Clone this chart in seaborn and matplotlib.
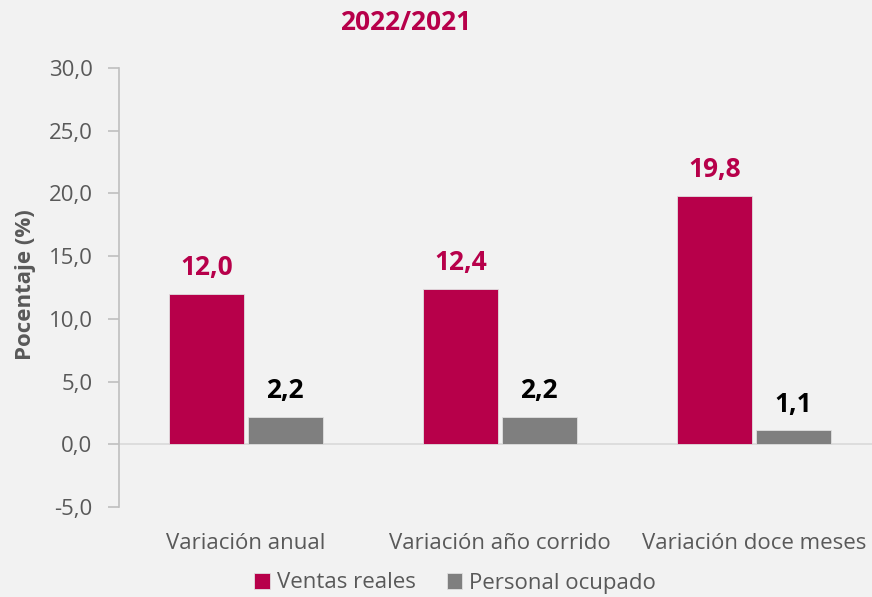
import matplotlib
matplotlib.use("Agg")
import matplotlib.pyplot as plt
import seaborn as sns
import pandas as pd

categories = ["Variación anual", "Variación año corrido", "Variación doce meses"]
series_names = ["Ventas reales", "Personal ocupado"]
ventas = [12.0, 12.4, 19.8]
personal = [2.2, 2.2, 1.1]
yticks = [-5, 0, 5, 10, 15, 20, 25, 30]
title = "2022/2021"
ylabel = "Pocentaje (%)"

CRIMSON = "#B7004A"
GRAY = "#7F7F7F"
TXT = "#595959"
BG = "#F2F2F2"

sns.set_theme(style="white")
plt.rcParams['font.family'] = ['Open Sans', 'DejaVu Sans']

df = pd.DataFrame({
    "cat": categories * 2,
    "serie": [series_names[0]] * 3 + [series_names[1]] * 3,
    "val": ventas + personal,
})

fig = plt.figure(figsize=(8.72, 5.97), dpi=100, facecolor=BG)
W, H = 872, 597
ax = fig.add_axes([119 / W, 1 - 507 / H, 762 / W, 439 / H])
ax.set_facecolor(BG)

sns.barplot(data=df, x="cat", y="val", hue="serie", order=categories,
            hue_order=series_names, palette=[CRIMSON, GRAY], saturation=1,
            width=0.618, gap=0.045, edgecolor="#E0E0E0", linewidth=0.6,
            ax=ax, zorder=3)

ax.set_xlim(-0.5, 2.5)
ax.set_ylim(-5, 30)
ax.set_yticks(yticks)
ax.set_yticklabels([f"{v:.1f}".replace(".", ",") for v in yticks],
                   fontsize=16, color=TXT)
ax.tick_params(axis="y", length=8, width=1.2, color="#BFBFBF", pad=11, left=True)
ax.tick_params(axis="x", length=0, pad=19, labelsize=16, labelcolor=TXT)
ax.set_xlabel("")
ax.set_ylabel("")
for s in ["top", "right", "bottom"]:
    ax.spines[s].set_visible(False)
ax.spines["left"].set_color("#BFBFBF")
ax.spines["left"].set_linewidth(1.2)
ax.axhline(0, color="#D9D9D9", lw=1.2, zorder=2)

# value labels
for cont, col in zip(ax.containers, [CRIMSON, "black"]):
    for rect, lab in zip(cont, [f"{v:.1f}".replace(".", ",") for v in cont.datavalues]):
        ax.annotate(lab, (rect.get_x() + rect.get_width() / 2, rect.get_height()),
                    xytext=(0, 19), textcoords="offset points", ha="center",
                    va="center", fontsize=19, fontweight="bold", color=col)

handles, labels = ax.get_legend_handles_labels()
if ax.get_legend() is not None:
    ax.get_legend().remove()
fig.legend(handles, labels, loc="center", bbox_to_anchor=(455 / W, 1 - 583 / H),
           ncol=2, frameon=False, fontsize=16, labelcolor=TXT, handlelength=0.7,
           handleheight=0.7, handletextpad=0.3, columnspacing=1.4, borderpad=0)

fig.text(406 / W, 1 - 22 / H, title, ha="center", va="center", fontsize=19,
         fontweight="bold", color=CRIMSON)
fig.text(26 / W, 1 - 285 / H, ylabel, ha="center", va="center", rotation=90,
         fontsize=16, fontweight="bold", color=TXT)

fig.savefig("out.png", dpi=100, facecolor=BG)
